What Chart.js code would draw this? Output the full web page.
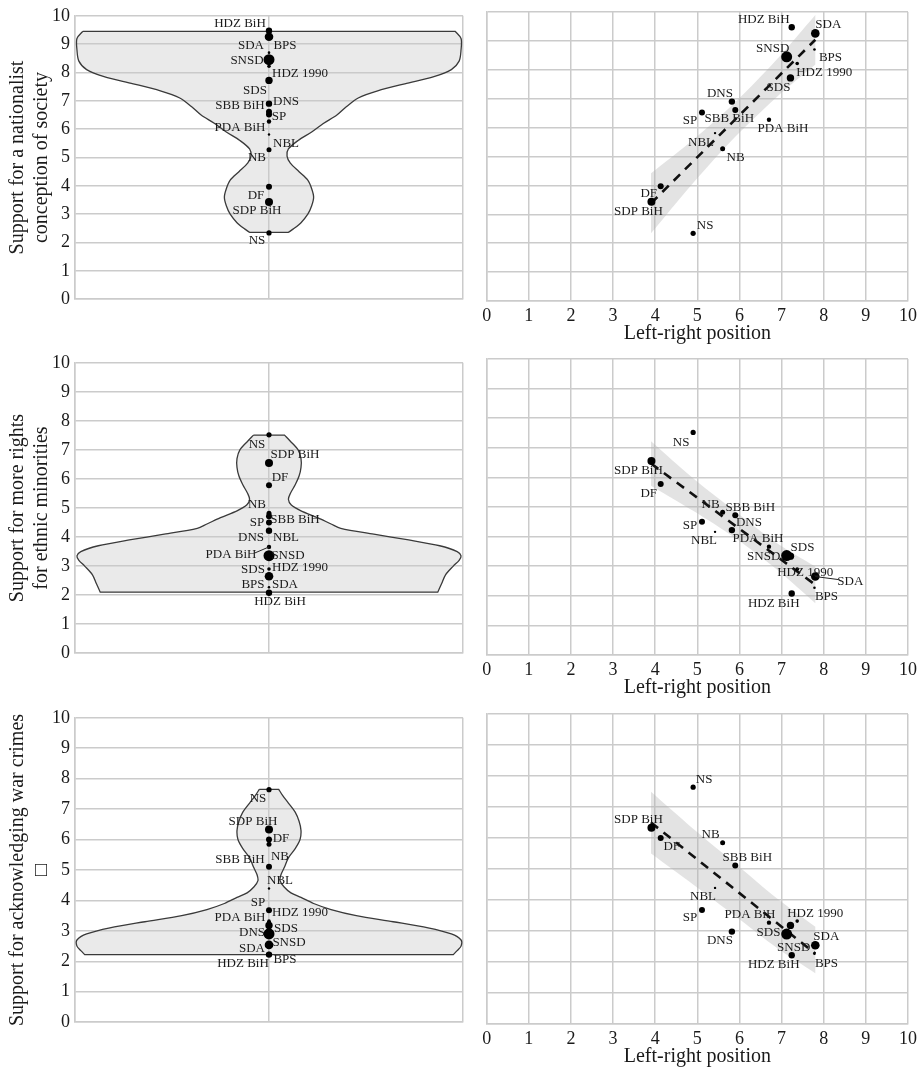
<!DOCTYPE html>
<html>
<head>
<meta charset="utf-8">
<script src="https://cdn.jsdelivr.net/npm/chart.js@4.4.1/dist/chart.umd.min.js"></script>
<style>
  html, body { margin: 0; padding: 0; background: #fff; }
  body { width: 924px; height: 1069px; position: relative; overflow: hidden; }
  canvas { position: absolute; }
</style>
</head>
<body>
<canvas id="v1"></canvas><canvas id="s1"></canvas>
<canvas id="v2"></canvas><canvas id="s2"></canvas>
<canvas id="v3"></canvas><canvas id="s3"></canvas>
<script>
// party positions
const parties = ['HDZ BiH', 'SDA', 'BPS', 'SNSD', 'HDZ 1990', 'SDS', 'DNS', 'SBB BiH', 'SP', 'PDA BiH', 'NBL', 'NB', 'DF', 'SDP BiH', 'NS'];
const leftRight   = [7.24, 7.80, 7.78, 7.12, 7.37, 7.21, 5.82, 5.90, 5.11, 6.70, 5.42, 5.60, 4.13, 3.91, 4.90];
const nationalist = [9.47, 9.26, 8.70, 8.45, 8.22, 7.72, 6.90, 6.61, 6.52, 6.27, 5.81, 5.27, 3.97, 3.43, 2.34];
const minorities  = [2.08, 2.65, 2.27, 3.36, 2.90, 3.34, 4.22, 4.72, 4.50, 3.66, 4.16, 4.82, 5.78, 6.55, 7.52];
const warCrimes   = [2.22, 2.54, 2.27, 2.90, 3.32, 3.18, 2.98, 5.11, 3.68, 3.27, 4.39, 5.85, 6.00, 6.33, 7.64];

// violin outlines: y value and half width (1 = half the panel)
const violin1Y = [9.45, 9.2, 8.8, 8.4, 8.1, 7.85, 7.6, 7.35, 7.1, 6.8, 6.5, 6.2, 5.9, 5.6, 5.3, 5.05, 4.8, 4.5, 4.2, 3.9, 3.6, 3.3, 3.0, 2.7, 2.5, 2.36];
const violin1W = [0.96, 0.99, 0.99, 0.98, 0.94, 0.85, 0.70, 0.56, 0.46, 0.40, 0.35, 0.28, 0.22, 0.15, 0.10, 0.093, 0.11, 0.155, 0.20, 0.22, 0.23, 0.22, 0.20, 0.165, 0.13, 0.10];
const violin2Y = [7.51, 7.3, 7.0, 6.7, 6.4, 6.1, 5.8, 5.5, 5.3, 5.1, 4.9, 4.67, 4.45, 4.3, 4.1, 3.9, 3.7, 3.5, 3.35, 3.2, 3.0, 2.7, 2.4, 2.1];
const violin2W = [0.08, 0.11, 0.15, 0.165, 0.165, 0.155, 0.135, 0.11, 0.10, 0.115, 0.165, 0.25, 0.32, 0.37, 0.54, 0.72, 0.88, 0.97, 0.99, 0.98, 0.95, 0.91, 0.89, 0.87];
const violin3Y = [7.65, 7.45, 7.2, 6.9, 6.6, 6.3, 6.0, 5.7, 5.4, 5.1, 4.85, 4.65, 4.45, 4.25, 4.1, 3.9, 3.7, 3.5, 3.3, 3.1, 2.9, 2.7, 2.5, 2.35, 2.22];
const violin3W = [0.05, 0.07, 0.10, 0.135, 0.155, 0.165, 0.16, 0.135, 0.10, 0.08, 0.062, 0.057, 0.077, 0.113, 0.165, 0.23, 0.32, 0.45, 0.64, 0.82, 0.94, 0.99, 0.99, 0.97, 0.95];

// fitted lines and confidence bands
const fitX = [3.9, 7.8];
const fit1 = [3.38, 9.04];
const fit2 = [6.47, 2.37];
const fit3 = [6.50, 2.27];
const bandX = [3.9, 4.9, 5.9, 6.9, 7.8];
const band1Lo = [2.34, 4.08, 5.68, 7.08, 8.18];
const band1Hi = [4.42, 5.58, 6.88, 8.38, 9.90];
const band2Lo = [5.72, 4.87, 3.95, 2.87, 1.75];
const band2Hi = [7.22, 5.97, 4.85, 3.77, 2.99];
const band3Lo = [5.50, 4.50, 3.48, 2.44, 1.64];
const band3Hi = [7.49, 6.30, 5.18, 4.04, 3.14];

const axisTicks = [0, 1, 2, 3, 4, 5, 6, 7, 8, 9, 10];

// styling
const dotRadius = [3.2, 4.3, 1.3, 5.5, 1.8, 3.7, 3.2, 3, 3, 2.2, 1.2, 2.5, 3, 4, 2.6];
const serif = '"Liberation Serif", "Times New Roman", "DejaVu Sans", serif';
const gridColor = '#cbcbcb';
const textColor = '#1a1a1a';
const rows = [{top: 12, bottom: 301}, {top: 359, bottom: 655}, {top: 714, bottom: 1024}];

// label offsets in px from the dot: [dx, dy, leaderX, leaderY]
const off1v = {'HDZ BiH': [-29, -7], 'SDA': [-18, 9], 'BPS': [16, -7], 'SNSD': [-22, 1], 'HDZ 1990': [31, 7], 'SDS': [-14, 10], 'DNS': [17, -2], 'SBB BiH': [-29, -6], 'SP': [10, 2], 'PDA BiH': [-29, 6], 'NBL': [17, 9], 'NB': [-12, 8], 'DF': [-13, 9], 'SDP BiH': [-12, 9], 'NS': [-12, 8]};
const off1s = {'HDZ BiH': [-28, -8], 'SDA': [13, -9], 'SNSD': [-14, -8], 'BPS': [16, 8], 'HDZ 1990': [27, 9], 'SDS': [-12, 10], 'DNS': [-12, -8], 'SP': [-12, 8], 'SBB BiH': [-6, 9], 'PDA BiH': [14, 9], 'NBL': [-14, 9], 'NB': [13, 9], 'DF': [-12, 7], 'SDP BiH': [-13, 10], 'NS': [12, -8]};
const off2v = {'NS': [-12, 10], 'SDP BiH': [26, -8], 'DF': [11, -8], 'NB': [-12, -9], 'SP': [-12, 0], 'SBB BiH': [26, 3], 'DNS': [-18, 7], 'NBL': [17, 5], 'PDA BiH': [-38, 8, -14, 6], 'SNSD': [19, 0], 'SDS': [-16, 13], 'HDZ 1990': [31, -1], 'BPS': [-16, -3], 'SDA': [16, 8], 'HDZ BiH': [11, 9]};
const off2s = {'NS': [-12, 10], 'SDP BiH': [-13, 9], 'DF': [-12, 10], 'NB': [-12, -8], 'SBB BiH': [15, -8], 'DNS': [17, -8], 'SP': [-12, 4], 'NBL': [-11, 9], 'PDA BiH': [-11, -8], 'SDS': [12, -9], 'SNSD': [-23, 1], 'HDZ 1990': [8, 3], 'SDA': [35, 5, 23, 3], 'BPS': [12, 9], 'HDZ BiH': [-18, 10]};
const off3v = {'NS': [-11, 9], 'SDP BiH': [-16, -8], 'DF': [12, -1], 'NB': [11, 12], 'SBB BiH': [-29, -7], 'NBL': [11, -8], 'SP': [-11, -8], 'HDZ 1990': [31, -9], 'PDA BiH': [-29, -5], 'SDS': [17, 3], 'DNS': [-17, 1], 'SNSD': [20, 9], 'SDA': [-17, 4], 'BPS': [16, 6], 'HDZ BiH': [-26, 9]};
const off3s = {'NS': [11, -8], 'SDP BiH': [-13, -8], 'DF': [11, 9], 'NB': [-12, -8], 'SBB BiH': [12, -8], 'NBL': [-12, 9], 'SP': [-12, 8], 'PDA BiH': [-19, -8], 'HDZ 1990': [18, -8], 'SDS': [-22, 7], 'DNS': [-12, 9], 'SNSD': [7, 13], 'SDA': [11, -9], 'BPS': [12, 10], 'HDZ BiH': [-18, 9]};

function place(id, left, top, w, h) {
  const c = document.getElementById(id);
  c.width = w; c.height = h;
  c.style.left = left + 'px'; c.style.top = top + 'px';
  c.style.width = w + 'px'; c.style.height = h + 'px';
  return c;
}

// closed outline, corners doubled so the curve stays sharp there
function violinShape(ys, ws) {
  const left = ys.map((y, i) => ({x: -ws[i], y: y}));
  const right = ys.map((y, i) => ({x: ws[i], y: y})).reverse();
  const n = left.length;
  return [left[0], ...left, left[n - 1], right[0], ...right, right[n - 1], left[0], left[0]];
}
function bandShape(xs, lo, hi) {
  const up = xs.map((x, i) => ({x: x, y: hi[i]}));
  const down = xs.map((x, i) => ({x: x, y: lo[i]})).reverse();
  const n = up.length;
  return [up[0], ...up, up[n - 1], down[0], ...down, down[n - 1], up[0], up[0]];
}

function labelPlugin(xs, ys, offsets) {
  return {
    id: 'partyLabels',
    afterDatasetsDraw(chart) {
      const {ctx} = chart;
      const sx = chart.scales.x, sy = chart.scales.y;
      ctx.save();
      ctx.font = '13px ' + serif;
      ctx.fillStyle = textColor;
      ctx.strokeStyle = '#222';
      ctx.lineWidth = 1;
      ctx.textAlign = 'center';
      ctx.textBaseline = 'middle';
      parties.forEach((p, i) => {
        const px = sx.getPixelForValue(xs[i]);
        const py = sy.getPixelForValue(ys[i]);
        const o = offsets[p];
        if (o.length > 2) {
          ctx.beginPath();
          ctx.moveTo(px + o[2], py + o[3]);
          ctx.lineTo(px, py);
          ctx.stroke();
        }
        ctx.fillText(p, px + o[0], py + o[1]);
      });
      ctx.restore();
    }
  };
}

const tickFont = {family: serif, size: 18};
const titleFont = {family: serif, size: 20};
const gridOpts = {color: gridColor, lineWidth: 1.5, drawTicks: false};
const borderOpts = {color: gridColor, width: 1.5};

function violinChart(id, row, values, vy, vw, title, offsets) {
  const h = row.bottom - row.top;
  const c = place(id, 0, row.top - 12, 470, h + 26);
  return new Chart(c, {
    type: 'scatter',
    data: {
      datasets: [
        {data: values.map(v => ({x: 0, y: v})), pointRadius: dotRadius, pointHoverRadius: dotRadius,
         backgroundColor: '#000', borderWidth: 0, order: 0},
        {data: violinShape(vy, vw), showLine: true, fill: 'shape', tension: 0.3, pointRadius: 0,
         borderColor: '#3a3a3a', borderWidth: 1.3, backgroundColor: 'rgba(200,200,200,0.38)', order: 1}
      ]
    },
    options: {
      responsive: false, animation: false, devicePixelRatio: 1,
      layout: {padding: {top: 12, bottom: 14, left: 0, right: 7}},
      plugins: {legend: {display: false}, tooltip: {enabled: false}},
      scales: {
        x: {type: 'linear', min: -1, max: 1, ticks: {display: false, stepSize: 1},
            grid: gridOpts, border: borderOpts, afterFit: s => { s.height = 0; }},
        y: {min: 0, max: 10, afterBuildTicks: s => { s.ticks = axisTicks.map(v => ({value: v})); },
            ticks: {font: tickFont, color: textColor, padding: 5},
            grid: gridOpts, border: borderOpts,
            title: {display: true, text: title, font: titleFont, color: textColor, padding: {top: 6, bottom: 0}},
            afterFit: s => { s.width = 75; }}
      }
    },
    plugins: [labelPlugin(parties.map(() => 0), values, offsets)]
  });
}

function scatterChart(id, row, values, fit, lo, hi, offsets) {
  const h = row.bottom - row.top;
  const c = place(id, 470, row.top - 12, 454, h + 12 + 45);
  return new Chart(c, {
    type: 'scatter',
    data: {
      datasets: [
        {data: leftRight.map((x, i) => ({x: x, y: values[i]})), pointRadius: dotRadius, pointHoverRadius: dotRadius,
         backgroundColor: '#000', borderWidth: 0, order: 0},
        {data: fitX.map((x, i) => ({x: x, y: fit[i]})), showLine: true, pointRadius: 0,
         borderColor: '#111', borderWidth: 2.6, borderDash: [9, 7], order: 1},
        {data: bandShape(bandX, lo, hi), showLine: true, fill: 'shape', tension: 0.3, pointRadius: 0,
         borderWidth: 0, borderColor: 'rgba(0,0,0,0)', backgroundColor: 'rgba(175,175,175,0.35)', order: 2}
      ]
    },
    options: {
      responsive: false, animation: false, devicePixelRatio: 1,
      layout: {padding: {top: 12, bottom: 0, left: 0, right: 16}},
      plugins: {legend: {display: false}, tooltip: {enabled: false}},
      scales: {
        x: {min: 0, max: 10, afterBuildTicks: s => { s.ticks = axisTicks.map(v => ({value: v})); },
            ticks: {font: tickFont, color: textColor, padding: 4, maxRotation: 0, autoSkip: false},
            grid: gridOpts, border: borderOpts,
            title: {display: true, text: 'Left-right position', font: titleFont, color: textColor, padding: {top: 0, bottom: 0}},
            afterFit: s => { s.height = 45; }},
        y: {min: 0, max: 10, afterBuildTicks: s => { s.ticks = axisTicks.map(v => ({value: v})); },
            ticks: {display: false}, grid: gridOpts, border: borderOpts,
            afterFit: s => { s.width = 16.7; }}
      }
    },
    plugins: [labelPlugin(leftRight, values, offsets)]
  });
}

violinChart('v1', rows[0], nationalist, violin1Y, violin1W, ['Support for a nationalist', 'conception of society'], off1v);
scatterChart('s1', rows[0], nationalist, fit1, band1Lo, band1Hi, off1s);
violinChart('v2', rows[1], minorities, violin2Y, violin2W, ['Support for more rights', 'for ethnic minorities'], off2v);
scatterChart('s2', rows[1], minorities, fit2, band2Lo, band2Hi, off2s);
violinChart('v3', rows[2], warCrimes, violin3Y, violin3W, ['Support for acknowledging war crimes', '\u25A1'], off3v);
scatterChart('s3', rows[2], warCrimes, fit3, band3Lo, band3Hi, off3s);
</script>
</body>
</html>
